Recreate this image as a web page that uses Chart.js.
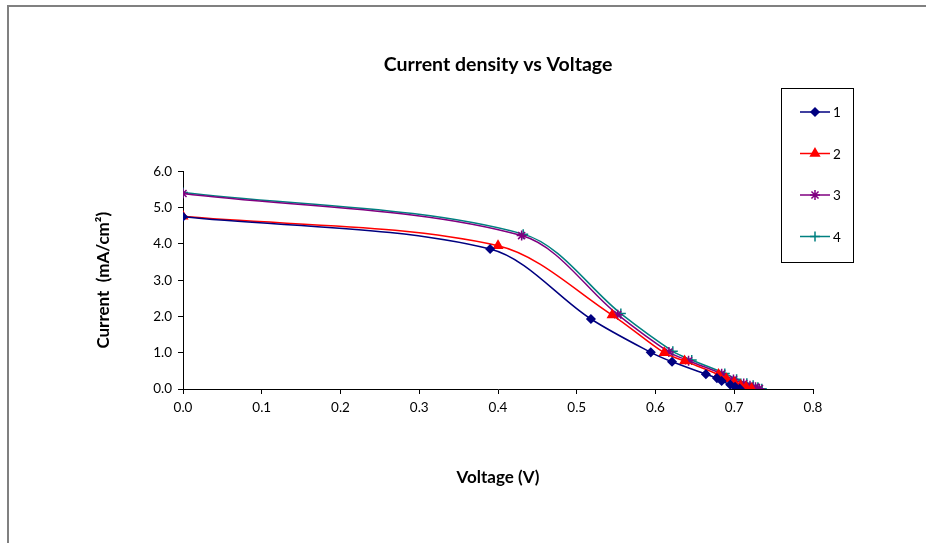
<!DOCTYPE html>
<html lang="en">
<head>
    <meta charset="UTF-8">
    <title>Current density vs Voltage</title>
    <script src="https://cdn.jsdelivr.net/npm/chart.js"></script>
    <style>
        html, body { margin: 0; padding: 0; background: #fff; }
        #wrap { width: 926px; height: 543px; }
    </style>
</head>
<body>
    <div id="wrap"><canvas id="ivChart" width="926" height="543"></canvas></div>

    <script>
        // Voltage (V) / current density (mA/cm2) per cell
        const v1 = [0, 0.39, 0.518, 0.594, 0.621, 0.664, 0.678, 0.684, 0.695, 0.701, 0.707];
        const j1 = [4.75, 3.86, 1.93, 1.01, 0.75, 0.41, 0.30, 0.22, 0.12, 0.06, 0.01];

        const v2 = [0, 0.40, 0.545, 0.611, 0.637, 0.68, 0.69, 0.70, 0.708, 0.715, 0.722];
        const j2 = [4.76, 3.95, 2.04, 1.00, 0.77, 0.40, 0.28, 0.18, 0.10, 0.05, 0.01];

        const v3 = [0, 0.43, 0.552, 0.617, 0.642, 0.684, 0.699, 0.712, 0.72, 0.727, 0.732];
        const j3 = [5.39, 4.23, 2.05, 1.02, 0.78, 0.42, 0.26, 0.15, 0.09, 0.05, 0.01];

        const v4 = [0, 0.432, 0.556, 0.622, 0.646, 0.688, 0.703, 0.716, 0.724, 0.73, 0.735];
        const j4 = [5.42, 4.27, 2.08, 1.04, 0.80, 0.43, 0.27, 0.16, 0.10, 0.05, 0.01];

        const seriesNames = ['1', '2', '3', '4'];
        const xTicks = [0, 0.1, 0.2, 0.3, 0.4, 0.5, 0.6, 0.7, 0.8];
        const yTicks = [0, 1, 2, 3, 4, 5, 6];

        const toPoints = (xs, ys) => xs.map((x, i) => ({ x: x, y: ys[i] }));

        const FONT = 'Lato, "Liberation Sans", sans-serif';

        function series(label, xs, ys, color, style, radius) {
            return {
                label: label,
                data: toPoints(xs, ys),
                borderColor: color,
                backgroundColor: color,
                pointBorderColor: color,
                pointBackgroundColor: color,
                pointStyle: style,
                pointRadius: radius,
                pointBorderWidth: 1.5,
                borderWidth: 1.5,
                tension: 0.32,
                fill: false
            };
        }

        // frame of the original sheet chart (top and left edge)
        const framePlugin = {
            id: 'frame',
            beforeDraw(chart) {
                const ctx = chart.ctx;
                ctx.save();
                ctx.fillStyle = '#fff';
                ctx.fillRect(0, 0, chart.width, chart.height);
                ctx.strokeStyle = '#808080';
                ctx.lineWidth = 2;
                ctx.beginPath();
                ctx.moveTo(8, chart.height + 2);
                ctx.lineTo(8, 6);
                ctx.lineTo(chart.width + 2, 6);
                ctx.stroke();
                ctx.restore();
            }
        };

        // boxed legend with line + marker, like the spreadsheet one
        const boxLegend = {
            id: 'boxLegend',
            afterDraw(chart) {
                const ctx = chart.ctx;
                const bx = 781, by = 88, bw = 72, bh = 174;
                ctx.save();
                ctx.strokeStyle = '#000';
                ctx.lineWidth = 1;
                ctx.strokeRect(bx + 0.5, by + 0.5, bw, bh);
                ctx.font = '13.5px ' + FONT;
                ctx.textBaseline = 'middle';
                chart.data.datasets.forEach((ds, i) => {
                    const y = by + 24 + i * 41.5;
                    ctx.strokeStyle = ds.borderColor;
                    ctx.lineWidth = 1.5;
                    ctx.beginPath();
                    ctx.moveTo(800, y);
                    ctx.lineTo(830, y);
                    ctx.stroke();
                    ctx.fillStyle = ds.borderColor;
                    Chart.helpers.drawPoint(ctx, {
                        pointStyle: ds.pointStyle,
                        radius: ds.pointRadius,
                        borderWidth: ds.pointBorderWidth,
                        rotation: 0
                    }, 815, y);
                    ctx.fillStyle = '#000';
                    ctx.fillText(ds.label, 833, y + 1);
                });
                ctx.restore();
            }
        };

        const ctx = document.getElementById('ivChart').getContext('2d');

        const ivChart = new Chart(ctx, {
            type: 'line',
            data: {
                datasets: [
                    series(seriesNames[0], v1, j1, '#000080', 'rectRot', 4),
                    series(seriesNames[1], v2, j2, '#ff0000', 'triangle', 5),
                    series(seriesNames[2], v3, j3, '#800080', 'star', 5),
                    series(seriesNames[3], v4, j4, '#008080', 'cross', 5)
                ]
            },
            options: {
                responsive: false,
                animation: false,
                layout: { padding: { left: 0, right: 113, top: 0, bottom: 44 } },
                plugins: {
                    legend: { display: false },
                    tooltip: { enabled: false },
                    title: {
                        display: true,
                        fullSize: false,
                        text: 'Current density vs Voltage',
                        color: '#000',
                        font: { family: FONT, size: 19.5, weight: 'bold' },
                        padding: { top: 53, bottom: 95 }
                    }
                },
                scales: {
                    x: {
                        type: 'linear',
                        min: 0,
                        max: 0.8,
                        afterFit(scale) { scale.height = 110; },
                        afterBuildTicks(scale) { scale.ticks = xTicks.map(v => ({ value: v })); },
                        border: { color: '#000', width: 1 },
                        grid: { display: true, drawOnChartArea: false, drawTicks: true, tickLength: 5, color: '#000' },
                        ticks: {
                            color: '#000',
                            padding: 6,
                            font: { family: FONT, size: 13.5 },
                            callback: v => Number(v).toFixed(1)
                        },
                        title: {
                            display: true,
                            text: 'Voltage (V)',
                            color: '#000',
                            font: { family: FONT, size: 17, weight: 'bold' },
                            padding: { top: 0, bottom: 11 }
                        }
                    },
                    y: {
                        type: 'linear',
                        min: 0,
                        max: 6,
                        afterFit(scale) { scale.width = 183; },
                        afterBuildTicks(scale) { scale.ticks = yTicks.map(v => ({ value: v })); },
                        border: { color: '#000', width: 1 },
                        grid: { display: true, drawOnChartArea: false, drawTicks: true, tickLength: 5, color: '#000' },
                        ticks: {
                            color: '#000',
                            padding: 6,
                            font: { family: FONT, size: 13.5 },
                            callback: v => Number(v).toFixed(1)
                        },
                        title: {
                            display: true,
                            text: 'Current  (mA/cm\u00B2)',
                            color: '#000',
                            font: { family: FONT, size: 17, weight: 'bold' },
                            padding: { top: 93, bottom: 0 }
                        }
                    }
                }
            },
            plugins: [framePlugin, boxLegend]
        });
    </script>
</body>
</html>
